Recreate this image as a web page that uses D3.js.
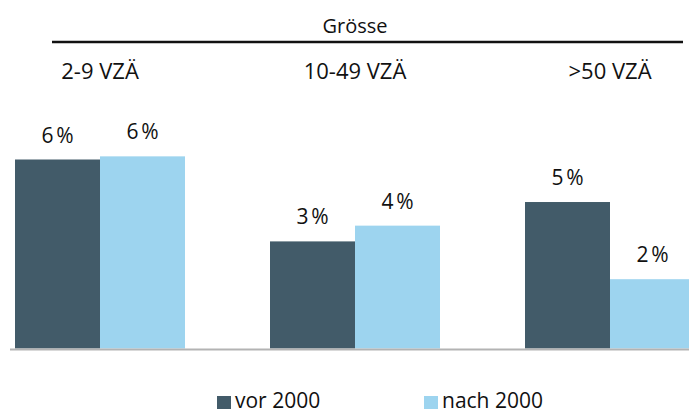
<!DOCTYPE html>
<html>
<head>
<meta charset="utf-8">
<script src="https://cdn.jsdelivr.net/npm/d3@7"></script>
<style>
  html, body { margin: 0; padding: 0; background: #fff; }
  svg { display: block; font-family: "Open Sans", sans-serif; }
</style>
</head>
<body>
<svg id="chart" width="689" height="414"></svg>
<script>
// Anteil je Grössenklasse, vor und nach 2000 (in %)
const categories = ["2-9 VZÄ", "10-49 VZÄ", ">50 VZÄ"];
const seriesNames = ["vor 2000", "nach 2000"];
const vor2000 = [6.0, 3.4, 4.65];
const nach2000 = [6.1, 3.9, 2.2];
const groupTitle = "Grösse";
const colors = ["#425b69", "#9dd4ef"];

const svg = d3.select("#chart");
const baseY = 348.5;

const x0 = d3.scaleBand()
  .domain(categories)
  .range([15, 695])
  .paddingInner(1 / 3)
  .paddingOuter(0);

const x1 = d3.scaleBand()
  .domain(seriesNames)
  .range([0, x0.bandwidth()])
  .padding(0);

const y = d3.scaleLinear()
  .domain([0, 8])
  .range([baseY, baseY - 8 * 31.5]);

const rows = categories.map((c, i) => ({
  cat: c,
  values: [
    { key: seriesNames[0], v: vor2000[i] },
    { key: seriesNames[1], v: nach2000[i] }
  ]
}));

const color = d3.scaleOrdinal().domain(seriesNames).range(colors);
const fmt = v => d3.format(".0f")(v) + "\u202F%";

// Bars
const groups = svg.append("g").selectAll("g")
  .data(rows)
  .join("g")
  .attr("transform", d => `translate(${x0(d.cat)},0)`);

groups.selectAll("rect")
  .data(d => d.values)
  .join("rect")
  .attr("x", d => x1(d.key))
  .attr("y", d => y(d.v))
  .attr("width", x1.bandwidth())
  .attr("height", d => y(0) - y(d.v))
  .attr("fill", d => color(d.key));

// Value labels
groups.selectAll("text")
  .data(d => d.values)
  .join("text")
  .attr("x", d => x1(d.key) + x1.bandwidth() / 2)
  .attr("y", d => y(d.v) - 17)
  .attr("text-anchor", "middle")
  .attr("font-size", 21)
  .attr("fill", "#111")
  .text(d => fmt(d.v));

// Baseline
svg.append("line")
  .attr("x1", 10).attr("x2", 689)
  .attr("y1", baseY + 1).attr("y2", baseY + 1)
  .attr("stroke", "#b3b3b3")
  .attr("stroke-width", 2);

// Category header (top axis)
const xAxis = d3.axisTop(x0).tickSize(0).tickPadding(0);
const ax = svg.append("g")
  .attr("transform", "translate(0,79)")
  .call(xAxis);
ax.select(".domain").remove();
ax.selectAll("text")
  .attr("font-size", 22)
  .attr("font-family", "Open Sans, sans-serif")
  .attr("fill", "#111")
  .attr("dy", 0);

svg.append("line")
  .attr("x1", 52).attr("x2", 683)
  .attr("y1", 42).attr("y2", 42)
  .attr("stroke", "#111")
  .attr("stroke-width", 2.5);

svg.append("text")
  .attr("x", x0(categories[1]) + x0.bandwidth() / 2)
  .attr("y", 33)
  .attr("text-anchor", "middle")
  .attr("font-size", 20)
  .attr("fill", "#111")
  .text(groupTitle);

// Legend
const legendX = [217, 424];
const legend = svg.append("g").selectAll("g")
  .data(seriesNames)
  .join("g")
  .attr("transform", (d, i) => `translate(${legendX[i]},0)`);

legend.append("rect")
  .attr("x", 0).attr("y", 396)
  .attr("width", 14).attr("height", 13)
  .attr("fill", d => color(d));

legend.append("text")
  .attr("x", 18)
  .attr("y", 408)
  .attr("font-size", 21)
  .attr("fill", "#111")
  .text(d => d);
</script>
</body>
</html>
